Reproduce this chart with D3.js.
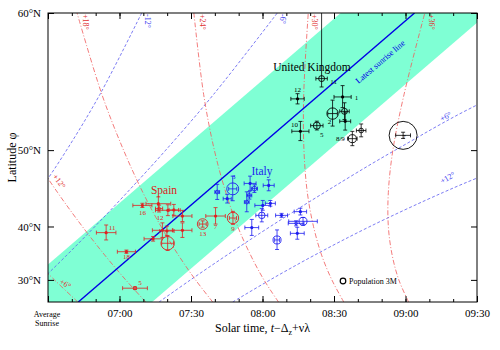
<!DOCTYPE html>
<html>
<head>
<meta charset="utf-8">
<script src="https://cdn.jsdelivr.net/npm/d3@7"></script>
<style>
  body { margin: 0; background: #fff; }
  text { font-family: "Liberation Serif", "DejaVu Serif", serif; }
</style>
</head>
<body>
<svg></svg>
<script>
// x axis: solar time in minutes after midnight (06:30 .. 09:30)
// y axis: latitude, spaced so the latest (winter solstice) sunrise is a straight line

let width  = 500,
    height = 350;
let plotLeft = 48, plotRight = 477, plotTop = 13, plotBottom = 302;

// ---- data ----
let latTicks   = [30, 40, 50, 60];
let timeTicks  = [390, 420, 450, 480, 510, 540, 570];
let minorTicks = d3.range(390, 571, 10);

// latest sunrise line [lat, minutes] and half width of the band around it
let latestSunrise = [[25, 402.7], [60, 543.8]];
let bandHalfWidth = 31;

// winter solstice, sun at given elevation: [lat, minutes]
let winterLabels = ['-12°', '-6°', '+6°', '+12°'];
let winterCurves = [
  [[25, 349.0], [30, 357.4], [35, 366.2], [40, 375.6], [45, 386.0], [50, 397.8], [55, 411.8], [60, 429.3]],
  [[25, 377.6], [30, 387.3], [35, 397.9], [40, 409.7], [45, 423.2], [50, 439.4], [55, 459.5], [60, 486.2]],
  [[25, 436.6], [30, 449.8], [35, 465.1], [40, 483.3], [45, 506.0], [50, 535.7], [55, 579.5], [60, 672.5]],
  [[25, 467.5], [30, 483.2], [35, 501.9], [40, 525.1], [45, 555.8], [47.5, 575.8], [50, 601.4]]
];

// summer solstice (summer time), sun at given elevation: [lat, minutes]
let summerLabels = ['+6°', '+12°', '+18°', '+24°', '+30°', '+36°'];
let summerCurves = [
  [[25, 402.5], [30, 392.7], [35, 382.1], [40, 370.3]],
  [[25, 431.0], [30, 422.6], [35, 413.8], [40, 404.4], [45, 394.0], [50, 382.2], [55, 368.2]],
  [[25, 459.1], [30, 451.9], [35, 444.7], [40, 437.4], [45, 429.8], [50, 421.7], [55, 412.6], [60, 402.2]],
  [[25, 486.7], [30, 480.6], [35, 475.0], [40, 469.6], [45, 464.6], [50, 459.8], [55, 455.3], [60, 451.2]],
  [[25, 514.1], [30, 509.1], [35, 504.8], [40, 501.4], [45, 498.8], [50, 497.4], [55, 497.3], [60, 499.2]],
  [[25, 541.3], [30, 537.2], [35, 534.4], [40, 532.8], [45, 532.8], [50, 534.7], [55, 539.4], [60, 548.1]]
];

// regions: [minutes, lat, +-minutes, +-lat (or [down, up]), population M, label]
let spain = [
  [429.6, 43.21, 4.0, 0.3, 0, '16'],
  [436.3, 43.45, 5.2, 0.95, 0, ''],
  [436.6, 42.75, 1.5, 0.5, 1.6, '12'],
  [440.3, 42.50, 5.2, 0.8, 0, ''],
  [442.8, 42.55, 2.0, 0.8, 0, ''],
  [446.4, 41.64, 4.0, 0.85, 0, ''],
  [446.4, 39.38, 4.0, 1.2, 0, ''],
  [438.0, 39.38, 4.2, 1.2, 1.3, ''],
  [439.9, 39.26, 3.0, 0.8, 0, ''],
  [460.3, 41.64, 4.1, 1.25, 0, '7'],
  [454.9, 40.39, 1.5, 0.5, 5.7, '13'],
  [467.6, 41.34, 1.5, 1.0, 6.1, '9'],
  [440.2, 37.16, 2.5, 1.3, 7.2, ''],
  [434.1, 37.94, 3.8, 0.4, 0, ''],
  [414.4, 38.99, 4.1, 1.25, 0, '11'],
  [422.9, 35.63, 3.8, 0.3, 0, '18'],
  [426.5, 28.18, 5.2, 0.3, 1.8, '5']
];
let italy = [
  [467.5, 45.47, 1.7, 1.6, 6.4, '3'],
  [461.0, 45.05, 1.0, 1.0, 2.0, ''],
  [465.2, 44.15, 1.7, 0.6, 0, ''],
  [474.8, 46.17, 2.5, 0.9, 0, ''],
  [476.6, 45.50, 1.3, 0.5, 2.5, ''],
  [482.6, 45.92, 2.3, 0.7, 0, ''],
  [474.5, 44.60, 1.0, 0.5, 2.0, ''],
  [473.4, 43.68, 1.0, 1.4, 2.0, ''],
  [480.1, 43.21, 3.3, 0.7, 0, ''],
  [483.3, 43.50, 2.1, 0.4, 0, ''],
  [479.7, 41.74, 2.5, 1.0, 3.5, ''],
  [488.0, 41.74, 2.5, 0.3, 0, ''],
  [495.9, 42.30, 2.6, 0.5, 0, ''],
  [497.0, 40.82, 6.0, 0.6, 4.3, ''],
  [494.1, 40.50, 3.3, 0.4, 1.5, ''],
  [494.6, 38.87, 2.9, 1.0, 0, ''],
  [475.5, 39.82, 2.9, 1.3, 0, ''],
  [486.1, 37.74, 1.0, 1.7, 4.3, '']
];
let uk = [
  [504.8, 56.15, 2.4, [0.6, 3.85], 3.2, '11'],
  [494.7, 54.65, 2.8, 0.4, 0, '12'],
  [513.6, 54.80, 3.6, 0.85, 0, '1'],
  [509.4, 53.45, 2.0, 1.1, 6.1, '2'],
  [514.4, 53.64, 2.0, 0.7, 3.2, ''],
  [514.7, 52.78, 2.3, 0.8, 0, ''],
  [502.8, 52.39, 2.6, 0.4, 3.8, '5'],
  [495.9, 51.87, 3.6, 0.9, 0, '10'],
  [521.4, 51.94, 2.0, 0.6, 2.5, ''],
  [517.7, 51.16, 2.0, 0.7, 4.3, '8/9'],
  [539.0, 51.48, 3.1, 0.3, 15, '7']
];

// ---- scales ----
let tilt      = 23.44 * Math.PI / 180;
let hourAngle = lat => Math.acos(Math.tan(lat * Math.PI / 180) * Math.tan(tilt)) * 180 / Math.PI;

let xScale  = d3.scaleLinear().domain([390, 570]).range([plotLeft, plotRight]),
    yHScale = d3.scaleLinear().domain([hourAngle(25), hourAngle(60)]).range([plotBottom, plotTop]),
    yScale  = lat => yHScale(hourAngle(lat)),
    rScale  = d3.scaleLinear().domain([0, 3]).range([0, 2.8]);

let fmt = m => String(Math.floor(m / 60)).padStart(2, '0') + ':' + String(m % 60).padStart(2, '0');

let svg = d3.select('svg')
    .attr('width', width)
    .attr('height', height);

svg.append('defs').append('clipPath').attr('id', 'plot')
  .append('rect')
    .attr('x', plotLeft).attr('y', plotTop)
    .attr('width', plotRight - plotLeft).attr('height', plotBottom - plotTop);

let plot = svg.append('g').attr('clip-path', 'url(#plot)');

let curve = d3.line()
    .x(d => xScale(d[1]))
    .y(d => yScale(d[0]))
    .curve(d3.curveCatmullRom);
let straight = d3.line()
    .x(d => xScale(d[1]))
    .y(d => yScale(d[0]));

//Band around latest sunrise
let band = [
  [latestSunrise[0][0], latestSunrise[0][1] - bandHalfWidth],
  [latestSunrise[1][0], latestSunrise[1][1] - bandHalfWidth],
  [latestSunrise[1][0], latestSunrise[1][1] + bandHalfWidth],
  [latestSunrise[0][0], latestSunrise[0][1] + bandHalfWidth]
];
plot.append('path')
    .attr('d', straight(band) + 'Z')
    .attr('fill', '#7fffd4');

//Elevation curves
plot.selectAll('.winter')
  .data(winterCurves)
  .enter()
  .append('path')
    .attr('d', curve)
    .attr('fill', 'none')
    .attr('stroke', '#5a5af0')
    .attr('stroke-width', 0.8)
    .attr('stroke-dasharray', '3,2');

plot.selectAll('.summer')
  .data(summerCurves)
  .enter()
  .append('path')
    .attr('d', curve)
    .attr('fill', 'none')
    .attr('stroke', '#f05a5a')
    .attr('stroke-width', 0.8)
    .attr('stroke-dasharray', '5,2,1,2');

//Latest sunrise line
plot.append('path')
    .attr('d', straight(latestSunrise))
    .attr('stroke', '#0000e6')
    .attr('stroke-width', 1.4)
    .attr('fill', 'none');

//Curve labels along the top edge
let topLabels = [
  [winterCurves[0], winterLabels[0], '#3c3cf0', 3],
  [winterCurves[1], winterLabels[1], '#3c3cf0', 3],
  [summerCurves[2], summerLabels[2], '#e03030', 6],
  [summerCurves[3], summerLabels[3], '#e03030', 6],
  [summerCurves[4], summerLabels[4], '#e03030', 4],
  [summerCurves[5], summerLabels[5], '#e03030', 4]
];
topLabels.forEach(([pts, label, color, gap]) => {
  let last = pts[pts.length - 1];
  svg.append('text')
      .attr('transform', `translate(${xScale(last[1]) + gap}, ${plotTop + 1}) rotate(90)`)
      .attr('font-size', 8)
      .attr('fill', color)
      .text(label);
});

//Side labels
let sideLabel = (px, py, angle, label, color) =>
  svg.append('text')
      .attr('transform', `translate(${px}, ${py}) rotate(${angle})`)
      .attr('font-size', 8)
      .attr('fill', color)
      .style('text-anchor', 'middle')
      .text(label);
sideLabel(447, 119, -27, winterLabels[2], '#3c3cf0');
sideLabel(449, 180, -30, winterLabels[3], '#3c3cf0');
sideLabel(57, 183, 52, summerLabels[1], '#e03030');
sideLabel(64, 286, 32, summerLabels[0], '#e03030');

svg.append('text')
    .attr('transform', 'translate(382, 64) rotate(-40.5)')
    .attr('font-size', 8.5)
    .attr('fill', '#0000e6')
    .style('text-anchor', 'middle')
    .text('Latest sunrise line');

//Regions
let labelOffsets = {
  spain: {'16': [0, 10], '12': [1, 11], '7': [0, 13], '13': [0, 12], '9': [0, 13], '11': [6, -3], '18': [0, 7], '5': [5, -3]},
  italy: {'3': [1, -10]},
  uk:    {'11': [12, 5], '12': [0, -7], '1': [14, 3], '2': [-3, 10], '5': [5, 11], '10': [-6, -4], '8/9': [-12, 2], '7': [1, 4]}
};

let drawRegion = (rows, color, key) => {
  let g = svg.append('g').attr('stroke', color).attr('fill', color);
  rows.forEach(([t, lat, dt, dl, pop, label]) => {
    let cx = xScale(t), cy = yScale(lat);
    let lo = Array.isArray(dl) ? dl[0] : dl,
        hi = Array.isArray(dl) ? dl[1] : dl;
    let x0 = xScale(t - dt), x1 = xScale(t + dt),
        y0 = yScale(lat - lo), y1 = yScale(Math.min(lat + hi, 60));
    g.append('line').attr('x1', x0).attr('x2', x1).attr('y1', cy).attr('y2', cy).attr('stroke-width', 0.8);
    g.append('line').attr('x1', x0).attr('x2', x0).attr('y1', cy - 2).attr('y2', cy + 2).attr('stroke-width', 0.8);
    g.append('line').attr('x1', x1).attr('x2', x1).attr('y1', cy - 2).attr('y2', cy + 2).attr('stroke-width', 0.8);
    g.append('line').attr('x1', cx).attr('x2', cx).attr('y1', y0).attr('y2', y1).attr('stroke-width', 0.8);
    g.append('line').attr('x1', cx - 2).attr('x2', cx + 2).attr('y1', y0).attr('y2', y0).attr('stroke-width', 0.8);
    if (y1 > plotTop + 1)
      g.append('line').attr('x1', cx - 2).attr('x2', cx + 2).attr('y1', y1).attr('y2', y1).attr('stroke-width', 0.8);
    if (pop > 0)
      g.append('circle').attr('cx', cx).attr('cy', cy).attr('r', rScale(pop))
          .attr('fill', 'none').attr('stroke-width', 0.9);
    else
      g.append('circle').attr('cx', cx).attr('cy', cy).attr('r', 1.6).attr('stroke', 'none');
    if (label) {
      let off = labelOffsets[key][label] || [0, 10];
      g.append('text')
          .attr('x', cx + off[0]).attr('y', cy + off[1])
          .attr('font-size', 7)
          .attr('stroke', 'none')
          .style('text-anchor', 'middle')
          .text(label);
    }
  });
};
drawRegion(spain, '#e02020', 'spain');
drawRegion(italy, '#1c1cf0', 'italy');
drawRegion(uk, '#000', 'uk');

//Region names
svg.append('text').attr('x', 312).attr('y', 71).attr('font-size', 11.5)
    .style('text-anchor', 'middle').text('United Kingdom');
svg.append('text').attr('x', 164).attr('y', 194).attr('font-size', 11.5).attr('fill', '#e02020')
    .style('text-anchor', 'middle').text('Spain');
svg.append('text').attr('x', 262).attr('y', 175).attr('font-size', 11.5).attr('fill', '#1c1cf0')
    .style('text-anchor', 'middle').text('Italy');

//Population key
svg.append('circle').attr('cx', 343).attr('cy', 281).attr('r', rScale(3))
    .attr('fill', 'none').attr('stroke', '#000').attr('stroke-width', 1.2);
svg.append('text').attr('x', 349).attr('y', 284).attr('font-size', 8).text('Population 3M');

//Axes
let styleAxis = g => {
  g.select('.domain').remove();
  g.attr('font-family', '"Liberation Serif", serif').attr('font-size', 11);
  g.selectAll('line').attr('stroke', '#000');
};

svg.append('g').attr('transform', `translate(0, ${plotBottom})`)
    .call(d3.axisBottom(xScale).tickValues(minorTicks).tickSize(-3).tickFormat(''))
    .call(styleAxis);
svg.append('g').attr('transform', `translate(0, ${plotBottom})`)
    .call(d3.axisBottom(xScale).tickValues(timeTicks).tickSize(-6).tickPadding(7)
            .tickFormat(d => d === 390 ? '' : fmt(d)))
    .call(styleAxis);
svg.append('g').attr('transform', `translate(0, ${plotTop})`)
    .call(d3.axisTop(xScale).tickValues(minorTicks).tickSize(-3).tickFormat(''))
    .call(styleAxis);
svg.append('g').attr('transform', `translate(0, ${plotTop})`)
    .call(d3.axisTop(xScale).tickValues(timeTicks).tickSize(-6).tickFormat(''))
    .call(styleAxis);

svg.append('g').attr('transform', `translate(${plotLeft}, 0)`)
    .call(d3.axisLeft(yHScale).tickValues(latTicks.map(hourAngle)).tickSize(-6).tickPadding(7)
            .tickFormat((d, i) => latTicks[i] + '°N'))
    .call(styleAxis);
svg.append('g').attr('transform', `translate(${plotRight}, 0)`)
    .call(d3.axisRight(yHScale).tickValues(latTicks.map(hourAngle)).tickSize(-6).tickFormat(''))
    .call(styleAxis);

svg.append('rect')
    .attr('x', plotLeft).attr('y', plotTop)
    .attr('width', plotRight - plotLeft).attr('height', plotBottom - plotTop)
    .attr('fill', 'none').attr('stroke', '#000').attr('stroke-width', 1);

//Average sunrise label at the left end
let avg = svg.append('text').attr('font-size', 8).style('text-anchor', 'middle');
avg.append('tspan').attr('x', plotLeft - 1).attr('y', 317).text('Average');
avg.append('tspan').attr('x', plotLeft - 1).attr('y', 326).text('Sunrise');

//Axis titles
let xTitle = svg.append('text')
    .attr('x', (plotLeft + plotRight) / 2)
    .attr('y', 332)
    .attr('font-size', 12)
    .style('text-anchor', 'middle');
xTitle.append('tspan').text('Solar time, ');
xTitle.append('tspan').attr('font-style', 'italic').text('t');
xTitle.append('tspan').text('−Δ');
xTitle.append('tspan').attr('font-size', 8).attr('dy', 3).text('z');
xTitle.append('tspan').attr('dy', -3).text('+νλ');

svg.append('text')
    .attr('transform', 'rotate(-90)')
    .attr('x', -(plotTop + plotBottom) / 2)
    .attr('y', 16)
    .attr('font-size', 12)
    .style('text-anchor', 'middle')
    .text('Latitude φ');
</script>
</body>
</html>
